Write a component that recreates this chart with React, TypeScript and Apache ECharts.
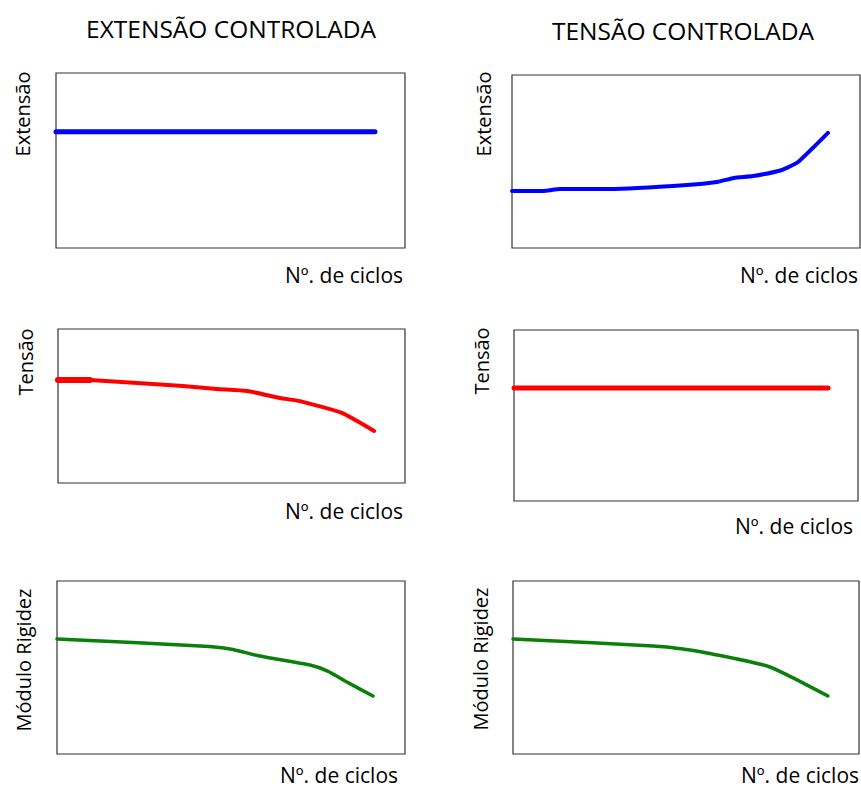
import React, { useEffect, useRef } from "react";
import * as echarts from "echarts";

// ---- Data (arbitrary units: cycles 0..100, response 0..100) ----
const CYCLES_EC_EXT = [0, 45, 91.4];
const EXT_EC = [66.5, 66.5, 66.5];

const CYCLES_EC_TEN_START = [0, 9.2];
const TEN_EC_START = [66.9, 66.9];
const CYCLES_EC_TEN = [9.2, 36.0, 45.8, 54.5, 64.0, 69.7, 81.8, 91.1];
const TEN_EC = [66.9, 63.0, 61.0, 59.7, 55.2, 53.2, 45.5, 33.8];

const CYCLES_EC_MOD = [0, 41.1, 49.7, 58.3, 72.7, 77.6, 83.3, 90.8];
const MOD_EC = [66.5, 62.4, 60.7, 56.6, 51.4, 48.0, 41.6, 33.5];

const CYCLES_TC_EXT = [0, 8.9, 13.8, 28.2, 50.3, 58.9, 63.8, 69.3, 77.6, 82.2, 90.8];
const EXT_TC = [32.9, 32.9, 34.1, 34.1, 36.4, 38.2, 40.5, 41.6, 45.1, 49.7, 66.5];

const CYCLES_TC_TEN = [0, 45, 91.3];
const TEN_TC = [66.1, 66.1, 66.1];

const CYCLES_TC_MOD = [0, 40.5, 49.1, 56.1, 73.4, 79.2, 91.0];
const MOD_TC = [66.5, 62.4, 60.7, 58.4, 50.9, 45.7, 33.5];

const TITLES = ["EXTENSÃO CONTROLADA", "TENSÃO CONTROLADA"];
const Y_LABELS = ["Extensão", "Tensão", "Módulo Rigidez"];
const X_LABEL = "Nº. de ciclos";

const FONT = "'Open Sans', 'DejaVu Sans', sans-serif";

const zip = (xs: number[], ys: number[]) => xs.map((x, i) => [x, ys[i]]);

export default function App() {
  const ref = useRef<HTMLDivElement>(null);

  useEffect(() => {
    if (!ref.current) return;
    const chart = echarts.init(ref.current, undefined, { renderer: "svg" });

    const grids = [
      { left: 56, top: 73, width: 349, height: 175 },
      { left: 58, top: 329, width: 347, height: 154 },
      { left: 57, top: 581, width: 348, height: 173 },
      { left: 512, top: 75, width: 348, height: 173 },
      { left: 514, top: 330, width: 344, height: 171 },
      { left: 513, top: 581, width: 346, height: 173 },
    ].map((g) => ({
      ...g,
      show: true,
      borderColor: "#333333",
      borderWidth: 1.2,
      backgroundColor: "transparent",
    }));

    const xAxis = grids.map((_, i) => ({
      type: "value",
      gridIndex: i,
      min: 0,
      max: 100,
      show: false,
    }));
    const yAxis = grids.map((_, i) => ({
      type: "value",
      gridIndex: i,
      min: 0,
      max: 100,
      show: false,
    }));

    const line = (idx: number, data: number[][], color: string, width: number, smooth = 0.15) => ({
      type: "line",
      xAxisIndex: idx,
      yAxisIndex: idx,
      data,
      showSymbol: false,
      symbol: "none",
      smooth,
      lineStyle: { color, width, cap: "round", join: "round" },
      silent: true,
    });

    const BLUE = "#0000ff";
    const RED = "#ff0000";
    const GREEN = "#0a800a";

    const series = [
      line(0, zip(CYCLES_EC_EXT, EXT_EC), BLUE, 5),
      line(1, zip(CYCLES_EC_TEN_START, TEN_EC_START), RED, 6),
      line(1, zip(CYCLES_EC_TEN, TEN_EC), RED, 4),
      line(2, zip(CYCLES_EC_MOD, MOD_EC), GREEN, 3.5, 0.3),
      line(3, zip(CYCLES_TC_EXT, EXT_TC), BLUE, 4),
      line(4, zip(CYCLES_TC_TEN, TEN_TC), RED, 5),
      line(5, zip(CYCLES_TC_MOD, MOD_TC), GREEN, 3.5, 0.3),
    ];

    const txt = (
      text: string,
      x: number,
      y: number,
      size: number,
      rotate = false
    ) => ({
      type: "text",
      x,
      y,
      rotation: rotate ? Math.PI / 2 : 0,
      silent: true,
      style: {
        text,
        fill: "#000",
        font: `${size}px ${FONT}`,
        align: "center",
        verticalAlign: "middle",
      },
    });

    const graphic = [
      txt(TITLES[0], 231, 28, 24.5),
      txt(TITLES[1], 683, 30, 24.5),
      txt(Y_LABELS[0], 22, 114, 20, true),
      txt(Y_LABELS[0], 483, 114, 20, true),
      txt(Y_LABELS[1], 25, 362, 20, true),
      txt(Y_LABELS[1], 481, 361, 20, true),
      txt(Y_LABELS[2], 23, 660, 20, true),
      txt(Y_LABELS[2], 480, 659, 20, true),
      txt(X_LABEL, 344, 275, 21),
      txt(X_LABEL, 799, 275, 21),
      txt(X_LABEL, 344, 511, 21),
      txt(X_LABEL, 794, 526, 21),
      txt(X_LABEL, 339, 775, 21),
      txt(X_LABEL, 800, 775, 21),
    ];

    chart.setOption({
      animation: false,
      backgroundColor: "#ffffff",
      grid: grids,
      xAxis,
      yAxis,
      series,
      graphic,
    });

    return () => chart.dispose();
  }, []);

  return (
    <div
      ref={ref}
      style={{ position: "fixed", left: 0, top: 0, width: 861, height: 789 }}
    />
  );
}
